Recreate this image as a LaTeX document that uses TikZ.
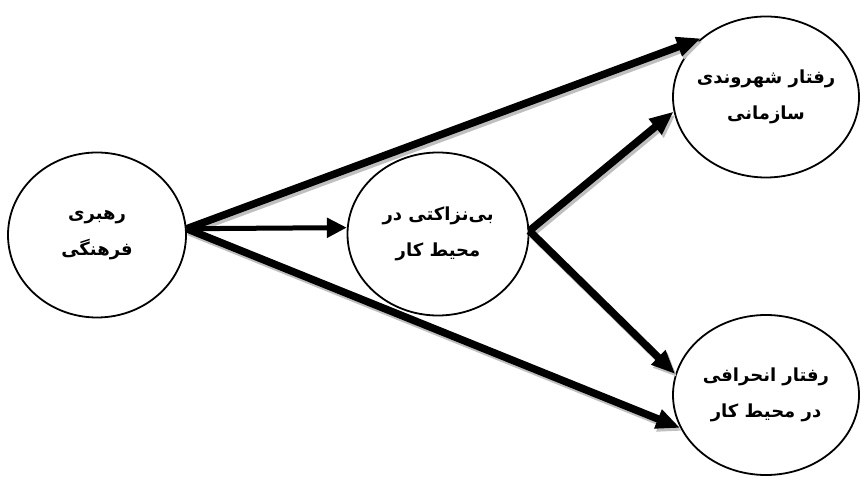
\documentclass[tikz,border=0pt]{standalone}
\usepackage{fontspec}
\newfontfamily\farsifont[Script=Arabic]{DejaVu Sans}
\TeXXeTstate=1
\usetikzlibrary{shapes.geometric, arrows.meta}

\begin{document}
\begin{tikzpicture}[x=1pt, y=1pt,
  concept/.style={draw=black, line width=1.8pt, ellipse, inner sep=-30pt, align=center,
    font=\farsifont\bfseries\fontsize{18}{36}\selectfont},
  link/.style={draw=black, line width=7.5pt, -{Triangle[length=24pt, width=19pt]}},
  linkshadow/.style={link, draw=gray!50, fill=gray!50, transform canvas={xshift=2pt, yshift=-3pt}},
  thinlink/.style={draw=black, line width=5pt, -{Triangle[length=20pt, width=19pt]}}]
  \useasboundingbox (0,0) rectangle (861,476);

  % Concepts
  \node[concept, minimum width=178pt, minimum height=165pt] (rahbari) at (97, 241)
    {\beginR رهبری\endR\\\beginR فرهنگی\endR};
  \node[concept, minimum width=181pt, minimum height=163pt] (biNezakati) at (438, 242)
    {\beginR بی‌نزاکتی در\endR\\\beginR محیط کار\endR};
  \node[concept, minimum width=186pt, minimum height=161pt] (shahrvandi) at (766, 379)
    {\beginR رفتار شهروندی\endR\\\beginR سازمانی\endR};
  \node[concept, minimum width=186pt, minimum height=160pt] (enherafi) at (766, 81)
    {\beginR رفتار انحرافی\endR\\\beginR در محیط کار\endR};

  % Paths
  \foreach \from/\to in {rahbari.4/shahrvandi.138, rahbari.4/enherafi.201,
      biNezakati.2/shahrvandi.189, biNezakati.2/enherafi.167} {
    \draw[linkshadow] (\from) -- (\to);
    \draw[link] (\from) -- (\to);
  }
  \draw[thinlink] (rahbari.4) -- (biNezakati.176);
\end{tikzpicture}
\end{document}
